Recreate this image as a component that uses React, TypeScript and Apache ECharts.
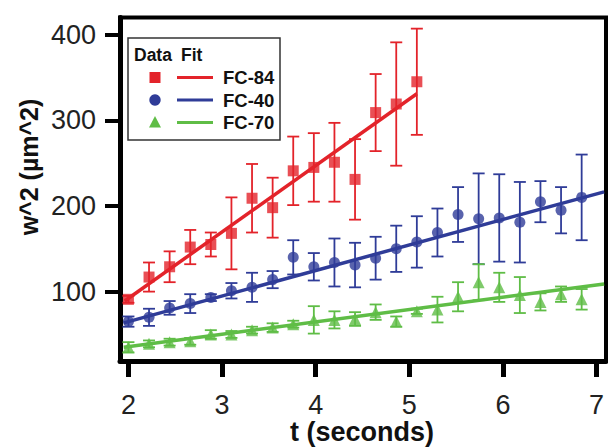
import React, { useEffect, useRef } from "react";
import * as echarts from "echarts";

const seriesNames = ["FC-84", "FC-40", "FC-70"];
const colors = ["#e3232a", "#2f3c98", "#5fbd46"];
const symbols = ["rect", "circle", "triangle"];

const tRed = [2.0, 2.22, 2.44, 2.66, 2.88, 3.1, 3.32, 3.54, 3.76, 3.98, 4.2, 4.42, 4.64, 4.86, 5.08];
const red = [91, 117, 129, 152, 155, 168, 209, 198, 241, 245, 251, 231, 309, 319, 345];
const redErr = [4, 17, 18, 20, 14, 42, 40, 35, 40, 40, 46, 47, 45, 72, 62];

const tBlueGreen = [2.0, 2.22, 2.44, 2.66, 2.88, 3.1, 3.32, 3.54, 3.76, 3.98, 4.2, 4.42, 4.64, 4.86, 5.08, 5.3, 5.52, 5.74, 5.96, 6.18, 6.4, 6.62, 6.84];
const blue = [65, 70, 81, 86, 93, 101, 105, 114, 140, 129, 134, 131, 139, 150, 158, 169, 190, 185, 186, 181, 205, 195, 210];
const blueErr = [6, 10, 8, 11, 4, 9, 17, 10, 20, 16, 28, 26, 25, 27, 30, 28, 32, 53, 51, 47, 24, 27, 50];
const green = [35, 39, 41, 42, 50, 50, 55, 58, 62, 67, 67, 68, 76, 65, 77, 79, 94, 111, 105, 96, 88, 97, 91];
const greenErr = [6, 4, 4, 4, 5, 4, 4, 5, 4, 16, 10, 8, 9, 6, 3, 15, 17, 21, 17, 21, 10, 9, 12];

const redFitT = [1.96, 5.08];
const redFit = [89, 331];
const blueFitT = [1.95, 7.08];
const blueFit = [63.5, 216.5];
const greenFitT = [1.95, 7.08];
const greenFit = [35, 109];

const xTicks = [2, 3, 4, 5, 6, 7];
const yTicks = [100, 200, 300, 400];

const FONT = "'Liberation Sans', Arial, Helvetica, sans-serif";

function errData(ts: number[], vs: number[], es: number[]) {
  return ts.map((t, i) => [t, vs[i] - es[i], vs[i] + es[i]]);
}

function pts(ts: number[], vs: number[]) {
  return ts.map((t, i) => [t, vs[i]]);
}

function errSeries(data: number[][], color: string) {
  return {
    type: "custom",
    data,
    encode: { x: 0, y: [1, 2] },
    z: 2,
    renderItem: (_p: any, api: any) => {
      const x = api.value(0);
      const top = api.coord([x, api.value(2)]);
      const bot = api.coord([x, api.value(1)]);
      const hw = 6;
      const style = { stroke: color, lineWidth: 1.8 };
      return {
        type: "group",
        children: [
          { type: "line", shape: { x1: top[0], y1: top[1], x2: bot[0], y2: bot[1] }, style },
          { type: "line", shape: { x1: top[0] - hw, y1: top[1], x2: top[0] + hw, y2: top[1] }, style },
          { type: "line", shape: { x1: bot[0] - hw, y1: bot[1], x2: bot[0] + hw, y2: bot[1] }, style },
        ],
      };
    },
  };
}

export default function App() {
  const ref = useRef<HTMLDivElement>(null);
  useEffect(() => {
    if (!ref.current) return;
    const chart = echarts.init(ref.current, null, { renderer: "svg" });
    const dataSets = [
      { t: tRed, v: red, e: redErr, ft: redFitT, fv: redFit },
      { t: tBlueGreen, v: blue, e: blueErr, ft: blueFitT, fv: blueFit },
      { t: tBlueGreen, v: green, e: greenErr, ft: greenFitT, fv: greenFit },
    ];
    const series: any[] = [];
    dataSets.forEach((d, i) => {
      series.push(errSeries(errData(d.t, d.v, d.e), colors[i]));
    });
    dataSets.forEach((d, i) => {
      series.push({
        type: "line",
        name: seriesNames[i] + " fit",
        data: pts(d.ft, d.fv),
        showSymbol: false,
        lineStyle: { color: colors[i], width: 3.5 },
        z: 3,
      });
    });
    dataSets.forEach((d, i) => {
      series.push({
        type: "scatter",
        name: seriesNames[i],
        data: pts(d.t, d.v),
        symbol: symbols[i],
        symbolSize: i === 2 ? 12 : 11,
        itemStyle: { color: colors[i] },
        z: 4,
      });
    });

    const legendRows = [77.5, 100, 122.5];
    const legendChildren: any[] = [
      { type: "rect", shape: { x: 128, y: 38, width: 152, height: 102 }, style: { fill: "#fff", stroke: "#333", lineWidth: 1.5 } },
      { type: "text", x: 134, y: 55, style: { text: "Data", font: `bold 17.5px ${FONT}`, fill: "#111", verticalAlign: "middle" } },
      { type: "text", x: 181, y: 55, style: { text: "Fit", font: `bold 17.5px ${FONT}`, fill: "#111", verticalAlign: "middle" } },
    ];
    legendRows.forEach((y, i) => {
      if (i === 0) legendChildren.push({ type: "rect", shape: { x: 149.5, y: y - 5.5, width: 11, height: 11 }, style: { fill: colors[i] } });
      if (i === 1) legendChildren.push({ type: "circle", shape: { cx: 155, cy: y, r: 5.7 }, style: { fill: colors[i] } });
      if (i === 2) legendChildren.push({ type: "polygon", shape: { points: [[155, y - 6.5], [149, y + 5], [161, y + 5]] }, style: { fill: colors[i] } });
      legendChildren.push({ type: "line", shape: { x1: 177, y1: y, x2: 213, y2: y }, style: { stroke: colors[i], lineWidth: 3 } });
      legendChildren.push({ type: "text", x: 223, y, style: { text: seriesNames[i], font: `bold 18.5px ${FONT}`, fill: "#111", verticalAlign: "middle" } });
    });

    chart.setOption({
      animation: false,
      backgroundColor: "#fff",
      grid: { left: 120, right: 2, top: 17.5, bottom: 86, show: true, borderColor: "#000", borderWidth: 4, backgroundColor: "transparent" },
      xAxis: {
        type: "value",
        min: 1.91,
        max: 7.1,
        splitLine: { show: false },
        axisLine: { show: true, lineStyle: { color: "#000", width: 5 } },
        axisTick: { show: true, length: 16, inside: false, lineStyle: { color: "#000", width: 5 }, customValues: xTicks },
        axisLabel: { customValues: xTicks, fontSize: 27, color: "#222", fontFamily: FONT, margin: 30 },
      },
      yAxis: {
        type: "value",
        min: 19,
        max: 420,
        splitLine: { show: false },
        axisLine: { show: true, lineStyle: { color: "#000", width: 5 } },
        axisTick: { show: true, length: 15, inside: false, lineStyle: { color: "#000", width: 4 }, customValues: yTicks },
        axisLabel: { customValues: yTicks, fontSize: 27, color: "#222", fontFamily: FONT, margin: 24 },
      },
      graphic: [
        { type: "group", children: legendChildren, z: 100 },
        { type: "text", x: 362, y: 432, style: { text: "t (seconds)", font: `bold 27px ${FONT}`, fill: "#111", align: "center", verticalAlign: "middle" } },
        { type: "text", x: 29, y: 167, rotation: Math.PI / 2, style: { text: "w^2 (µm^2)", font: `bold 25px ${FONT}`, fill: "#111", align: "center", verticalAlign: "middle" } },
      ],
      series,
    });
    return () => chart.dispose();
  }, []);
  return <div ref={ref} style={{ position: "fixed", left: 0, top: 0, width: 608, height: 447 }} />;
}
